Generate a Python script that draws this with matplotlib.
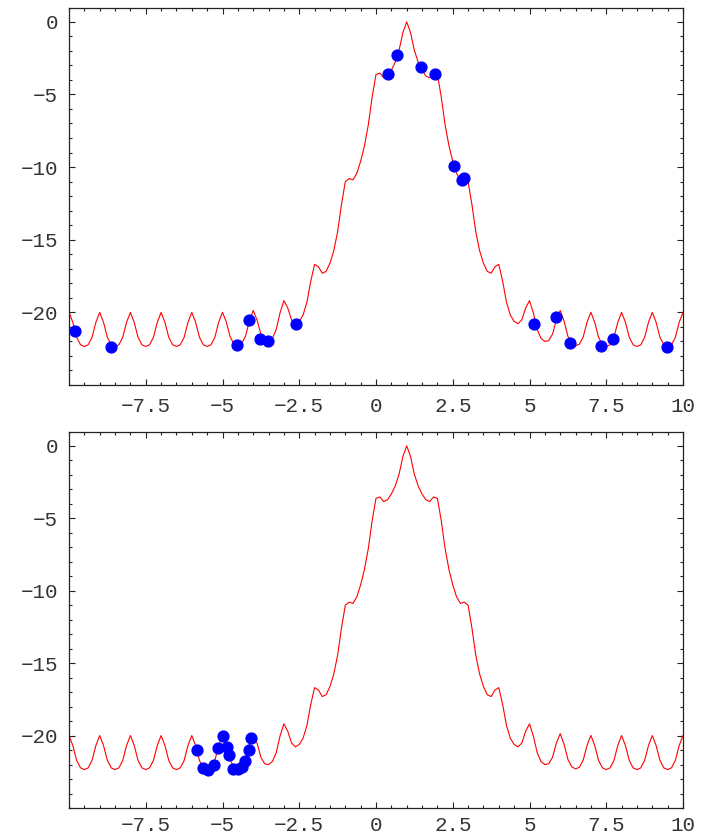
import matplotlib
matplotlib.use("Agg")
import matplotlib.pyplot as plt
import numpy as np
from matplotlib.ticker import MultipleLocator

# red curve at steps of 0.125 from x=-10 to x=10
curve_x = np.linspace(-10, 10, 161)
curve_y = [
    -20.00, -20.69, -21.72, -22.23, -22.35, -22.23, -21.72, -20.69,
    -20.00, -20.69, -21.72, -22.23, -22.35, -22.23, -21.72, -20.69,
    -20.00, -20.69, -21.72, -22.23, -22.35, -22.23, -21.72, -20.69,
    -20.00, -20.69, -21.72, -22.23, -22.35, -22.23, -21.72, -20.69,
    -20.00, -20.69, -21.72, -22.23, -22.35, -22.23, -21.72, -20.69,
    -19.99, -20.67, -21.69, -22.19, -22.30, -22.16, -21.64, -20.59,
    -19.87, -20.52, -21.50, -21.95, -22.00, -21.79, -21.18, -20.03,
    -19.19, -19.70, -20.52, -20.78, -20.62, -20.18, -19.30, -17.85,
    -16.69, -16.86, -17.31, -17.18, -16.62, -15.75, -14.45, -12.58,
    -11.01, -10.79, -10.88, -10.43, -9.60, -8.52, -7.09, -5.16,
    -3.63, -3.53, -3.85, -3.73, -3.33, -2.78, -1.97, -0.75,
    0.00,
    -0.75, -1.97, -2.78, -3.33, -3.73, -3.85, -3.53, -3.63,
    -5.16, -7.09, -8.52, -9.60, -10.43, -10.88, -10.79, -11.01,
    -12.58, -14.45, -15.75, -16.62, -17.18, -17.31, -16.86, -16.69,
    -17.85, -19.30, -20.18, -20.62, -20.78, -20.52, -19.70, -19.19,
    -20.03, -21.18, -21.79, -22.00, -21.95, -21.50, -20.52, -19.87,
    -20.59, -21.64, -22.16, -22.30, -22.19, -21.69, -20.67, -19.99,
    -20.69, -21.72, -22.23, -22.35, -22.23, -21.72, -20.69, -20.00,
    -20.69, -21.72, -22.23, -22.35, -22.23, -21.72, -20.69, -20.00,
    -20.69, -21.72, -22.23, -22.35, -22.23, -21.72, -20.69, -20.00,
]

# blue points, upper panel
top_x = [-9.82, -8.63, -4.53, -4.15, -3.77, -3.53, -2.61, 0.38, 0.69, 1.48,
         1.92, 2.55, 2.80, 2.86, 5.16, 5.86, 6.32, 7.32, 7.72, 9.49]
top_y = [-21.30, -22.40, -22.28, -20.51, -21.82, -21.95, -20.81, -3.58, -2.27, -3.08,
         -3.58, -9.91, -10.87, -10.72, -20.81, -20.32, -22.11, -22.30, -21.80, -22.38]

# blue points, lower panel
bot_x = [-5.84, -5.62, -5.46, -5.29, -5.14, -4.99, -4.85, -4.80, -4.67, -4.51,
         -4.36, -4.28, -4.15, -4.08]
bot_y = [-20.99, -22.24, -22.40, -22.03, -20.83, -20.03, -20.79, -21.34, -22.28, -22.31,
         -22.14, -21.76, -21.00, -20.17]

xticks = [-7.5, -5, -2.5, 0, 2.5, 5, 7.5, 10]
xlabels = ["\u22127.5", "\u22125", "\u22122.5", "0", "2.5", "5", "7.5", "10"]
yticks = [0, -5, -10, -15, -20]
ylabels = ["0", "\u22125", "\u221210", "\u221215", "\u221220"]

plt.rcParams['font.family'] = ['Liberation Mono', 'DejaVu Sans Mono']

fig = plt.figure(figsize=(7.01, 8.39), dpi=100)
ax1 = fig.add_axes([69 / 701, 1 - 385 / 839, 614 / 701, 377 / 839])
ax2 = fig.add_axes([69 / 701, 1 - 808 / 839, 614 / 701, 376 / 839])

for ax, px, py, xpad in [(ax1, top_x, top_y, 8.5), (ax2, bot_x, bot_y, 5.5)]:
    ax.plot(curve_x, curve_y, color="#ff0000", lw=0.8, zorder=2)
    ax.plot(px, py, "o", color="#0000ff", ms=7.8, mec="#0000ff", zorder=3)
    ax.set_xlim(-10, 10)
    ax.set_ylim(-25, 0.95)
    ax.set_xticks(xticks)
    ax.set_xticklabels(xlabels)
    ax.set_yticks(yticks)
    ax.set_yticklabels(ylabels)
    ax.xaxis.set_minor_locator(MultipleLocator(0.5))
    ax.yaxis.set_minor_locator(MultipleLocator(1))
    ax.tick_params(which="both", direction="in", top=True, right=True,
                   labeltop=False, labelright=False, color="#222222", width=0.8)
    ax.tick_params(which="major", length=4.5, labelsize=15, labelcolor="#333333")
    ax.tick_params(which="minor", length=2.5)
    ax.tick_params(axis="x", pad=xpad)
    ax.tick_params(axis="y", pad=8)
    for s in ax.spines.values():
        s.set_color("#222222")
        s.set_linewidth(0.9)

fig.savefig("out.png", dpi=100)
